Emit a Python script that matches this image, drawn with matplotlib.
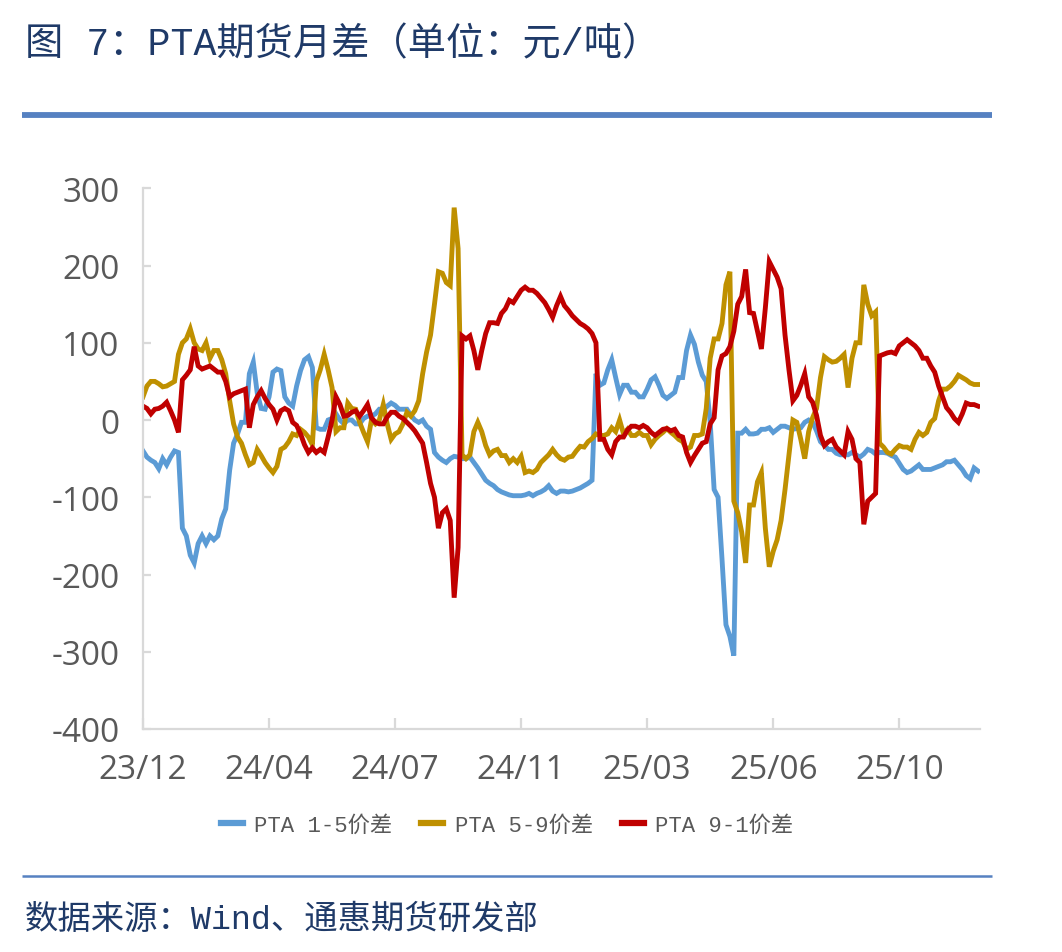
import matplotlib
matplotlib.use("Agg")
import matplotlib.pyplot as plt
import numpy as np

plt.rcParams["axes.unicode_minus"] = False

# ---------------- data (trading-day samples) ----------------
tick_labels = ["23/12", "24/04", "24/07", "24/11", "25/03", "25/06", "25/10"]
tick_every = 32
series_names = ["PTA 1-5价差", "PTA 5-9价差", "PTA 9-1价差"]

spread_1_5 = [
    -40, -48, -52, -55, -63, -50, -58, -48, -40, -42,
    -140, -150, -175, -185, -160, -150, -160, -150, -155, -150,
    -128, -115, -65, -30, -18, -3, -3, 60, 75, 35,
    15, 14, 30, 62, 66, 64,
    30, 22, 18, 44, 64, 78, 82, 68, -10, -12,
    -12, 0, 2, 8, 0, -5, 0, 0, -5, -5,
    2, 5, 5, 8, 14, 14, 18, 22, 19, 14,
    14, 14, 6, 0, -3,
    0, -8, -12, -42, -48, -52, -55, -50, -47, -48,
    -50, -50, -48, -55, -62, -70, -78, -82, -85, -90,
    -93, -95, -97, -98, -98, -98, -97, -95, -98, -95,
    -93, -90, -85, -92, -95, -92,
    -92, -93, -92, -90, -88, -85, -82, -78, 60, 45,
    48, 65, 78, 55, 33, 45, 45, 36, 36, 30,
    30, 40, 52, 56, 45, 32, 28, 32, 36, 55,
    55, 90, 110, 98, 75, 58,
    50,
    -3, -90, -100, -180, -265, -280, -305,
    -17, -17, -12, -18, -18, -17, -12, -12, -10, -16,
    -12, -8, -8, -10, -12, -11, -10, -3, 0, -3,
    -14, -28, -33, -38, -38, -43, -45,
    -45, -45, -42, -45, -48, -44, -38, -40, -44, -42,
    -42, -43, -46, -48, -56, -64, -68, -66, -62, -58,
    -64, -64, -64, -62, -60, -58, -54, -54, -52, -58,
    -64, -72, -76, -62, -66,
]

spread_5_9 = [
    30, 44, 50, 50, 47, 43, 44, 47, 50, 85,
    100, 105, 118, 100, 92, 90, 100, 80, 90, 90,
    78, 60, 25, -5, -22, -30, -45, -58, -55, -38,
    -46, -55, -62, -68, -60, -38,
    -35, -28, -18, -20, -12, -16, -22, -32, 50, 65,
    85, 65, 42, -15, -10, -10, 22, 15, 14, -3,
    -16, -28, 0, -5, 0, 20, -5, -25, -18, -15,
    -5, 10, 5, 12, 25,
    60, 88, 110, 150, 192, 190, 178, 174, 275, 222,
    -45, -50, -45, -15, -3, -15, -33, -45, -40, -38,
    -46, -46, -55, -50, -55, -47, -68, -66, -68, -64,
    -55, -50, -45, -38, -45, -50,
    -52, -48, -47, -40, -34, -35, -28, -24, -18, -20,
    -20, -18, -10, -15, 0, -18, -12, -20, -20, -16,
    -20, -20, -32, -25, -20, -16, -11, -16, -20, -25,
    -28, -38, -35, -20, -20, -18,
    15,
    80, 105, 105, 125, 175, 192, -105,
    -120, -145, -185, -110, -110, -80, -68, -140, -190, -170,
    -155, -130, -90, -45, 0, -3, -25, -50, -15, 3,
    15, 55, 82, 78, 75, 76, 80,
    85, 42, 80, 100, 100, 175, 150, 135, 140,
    -30, -35, -42, -44, -38, -33, -35, -35, -38,
    -25, -16, -20, -16, -3, 2, 25, 40, 40,
    44, 50, 58, 55, 52, 48, 46, 46,
]

spread_9_1 = [
    18, 15, 8, 14, 15, 18, 23, 12, 0, -16,
    52, 58, 65, 95, 70, 66, 68, 70, 66, 62,
    62, 50, 30, 34, 36, 38, 40, -10, 20, 30,
    38, 28, 20, 14, 0, 12,
    15, 12, -3, -7, -18, -32, -42, -36, -42, -38,
    -42, -22, 0, 30, 20, 5, 6, 10, 12, 5,
    12, 20, 3, -3, -5, -5, 4, 10, 10, 5,
    2, -3, -8, -14, -22,
    -30, -55, -82, -100, -140, -120, -115, -130, -230, -165,
    109, 105, 109, 90, 65, 90, 112, 126, 126, 125,
    138, 144, 155, 152, 160, 168, 172, 168, 168, 164,
    158, 152, 143, 133, 148, 160,
    148, 142, 135, 130, 125, 122, 118, 112, 100, -25,
    -25, -38, -45, -28, -22, -22, -13, -8, -8, -10,
    -7, -10, -16, -20, -16, -12, -11, -14, -12, -20,
    -22, -42, -55, -46, -38, -30,
    -28,
    -5, 3, 65, 83, 86, 95, 115,
    150, 160, 195, 139, 138, 115, 92, 145, 205, 195,
    185, 170, 110, 65, 25, 32, 45, 60, 30, 23,
    6, -20, -33, -28, -25, -35, -40,
    -45, -15, -25, -50, -55, -135, -105, -100, -95,
    83, 85, 87, 88, 86, 96, 100, 104, 100,
    96, 90, 80, 80, 70, 62, 44, 30, 16,
    10, 2, -3, 8, 22, 20, 20, 18,
]

colors = ["#5B9BD5", "#BF9000", "#C00000"]

# ---------------- figure ----------------
W, H = 1062, 953
fig = plt.figure(figsize=(W / 100, H / 100), dpi=100)
fig.patch.set_facecolor("white")

mono_cjk = ["Liberation Mono", "Noto Sans CJK SC", "DejaVu Sans"]
navy = "#1F3A68"
rule_color = "#5681C1"
axis_gray = "#D9D9D9"
text_gray = "#595959"

fig.text(25 / W, 1 - 45 / H, "图 7：PTA期货月差（单位：元/吨）", family=mono_cjk,
         fontsize=27.5, color=navy, va="center", ha="left")
fig.add_artist(plt.Line2D([22 / W, 992 / W], [1 - 116 / H, 1 - 116 / H],
                          transform=fig.transFigure, color=rule_color, lw=4.2,
                          solid_capstyle="butt"))
fig.add_artist(plt.Line2D([22 / W, 992 / W], [1 - 877 / H, 1 - 877 / H],
                          transform=fig.transFigure, color=rule_color, lw=1.8,
                          solid_capstyle="butt"))
fig.text(25 / W, 1 - 920 / H, "数据来源：Wind、通惠期货研发部", family=mono_cjk,
         fontsize=24, color=navy, va="center", ha="left")

left, right = 143 / W, 980 / W
bottom, top = 1 - 730 / H, 1 - 189.3 / H
ax = fig.add_axes([left, bottom, right - left, top - bottom])

data = [spread_1_5, spread_5_9, spread_9_1]
lines = []
for name, vals, c in zip(series_names, data, colors):
    x = np.arange(len(vals))
    ln, = ax.plot(x, vals, color=c, lw=3.5, label=name, solid_joinstyle="miter")
    lines.append(ln)

n = len(spread_1_5)
ax.set_xlim(0, n - 0.5)
ax.set_ylim(-400, 300)
ax.set_yticks(np.arange(-400, 301, 100))
ax.set_xticks(np.arange(len(tick_labels)) * tick_every)
ax.set_xticklabels(tick_labels)

for s in ["top", "right"]:
    ax.spines[s].set_visible(False)
for s in ["left", "bottom"]:
    ax.spines[s].set_color(axis_gray)
    ax.spines[s].set_linewidth(1.6)
ax.tick_params(axis="y", direction="in", length=6, width=1.6, color=axis_gray,
               labelsize=24, labelcolor=text_gray, pad=17)
ax.tick_params(axis="x", direction="in", length=8, width=1.6, color=axis_gray,
               labelsize=24, labelcolor=text_gray, pad=17)
for lab in ax.get_xticklabels() + ax.get_yticklabels():
    lab.set_family(["Open Sans", "DejaVu Sans"])

leg = fig.legend(handles=lines, loc="center", bbox_to_anchor=(507 / W, 1 - 826 / H),
                 ncol=3, frameon=False, handlelength=1.0, handletextpad=0.5,
                 columnspacing=1.3, prop={"family": mono_cjk, "size": 16})
for t in leg.get_texts():
    t.set_color(text_gray)
for h in leg.get_lines():
    h.set_linewidth(4.5)

fig.savefig("out.png", dpi=100, facecolor="white")
